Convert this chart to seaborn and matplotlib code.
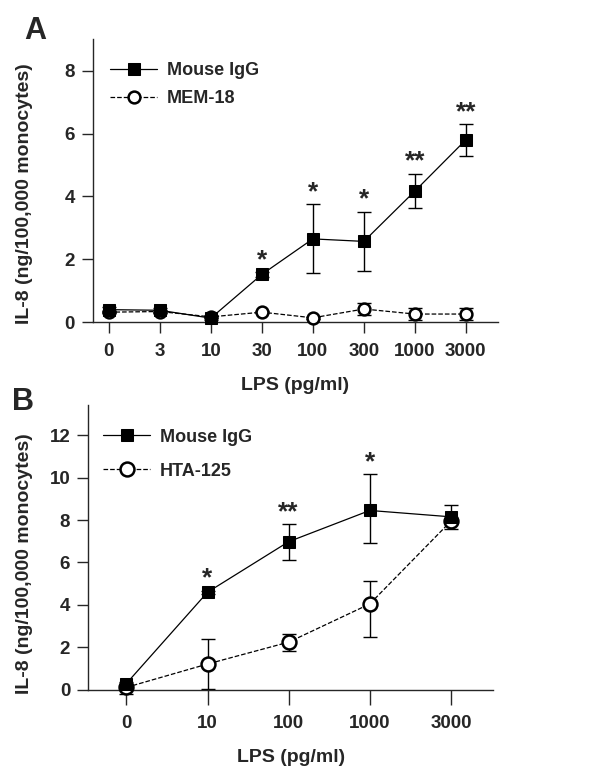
import matplotlib
matplotlib.use("Agg")
import matplotlib.pyplot as plt
import seaborn as sns
import numpy as np
import pandas as pd

# Panel A: anti-CD14 (MEM-18)
doses_a = ["0", "3", "10", "30", "100", "300", "1000", "3000"]
igg_a = [0.40, 0.38, 0.13, 1.52, 2.65, 2.57, 4.17, 5.80]
igg_a_err = [0.08, 0.06, 0.06, 0.08, 1.10, 0.95, 0.55, 0.50]
mem18_a = [0.32, 0.34, 0.17, 0.32, 0.14, 0.42, 0.26, 0.26]
mem18_a_err = [0.04, 0.04, 0.04, 0.04, 0.04, 0.18, 0.20, 0.20]
stars_a = ["", "", "", "*", "*", "*", "**", "**"]

# Panel B: HTA-125
doses_b = ["0", "10", "100", "1000", "3000"]
igg_b = [0.30, 4.60, 6.98, 8.45, 8.15]
igg_b_lo = [0.08, 0.08, 0.85, 1.55, 0.08]
igg_b_hi = [0.08, 0.08, 0.82, 1.70, 0.55]
hta_b = [0.12, 1.22, 2.25, 4.05, 7.95]
hta_b_lo = [0.30, 1.20, 0.42, 1.58, 0.35]
hta_b_hi = [0.05, 1.17, 0.40, 1.09, 0.15]
stars_b = ["", "*", "**", "*", ""]

sns.set_style("ticks")
plt.rcParams["font.family"] = ["Liberation Sans", "DejaVu Sans"]
plt.rcParams["font.weight"] = "bold"


def draw_panel(ax, doses, ctrl, ctrl_lo, ctrl_hi, treat, treat_lo, treat_hi,
               stars, treat_name, sq_size, circ_size, xtick_len):
    x = np.arange(len(doses))
    df = pd.DataFrame({"x": np.concatenate([x, x]),
                       "y": ctrl + treat,
                       "group": ["Mouse IgG"] * len(x) + [treat_name] * len(x)})

    # error bars first, so markers sit on top
    ax.errorbar(x, treat, yerr=[treat_lo, treat_hi], fmt="none", ecolor="black",
                elinewidth=1.0, capsize=5, capthick=1.0, zorder=2, clip_on=False)
    ax.errorbar(x, ctrl, yerr=[ctrl_lo, ctrl_hi], fmt="none", ecolor="black",
                elinewidth=1.0, capsize=5, capthick=1.0, zorder=2, clip_on=False)

    sub = df[df["group"] == treat_name]
    sns.lineplot(data=sub, x="x", y="y", ax=ax, color="black", linestyle="--",
                 linewidth=0.9, marker="o", markersize=circ_size,
                 markerfacecolor="white", markeredgecolor="black",
                 markeredgewidth=1.8, label=treat_name, zorder=3, clip_on=False)
    sub = df[df["group"] == "Mouse IgG"]
    sns.lineplot(data=sub, x="x", y="y", ax=ax, color="black", linestyle="-",
                 linewidth=0.9, marker="s", markersize=sq_size,
                 markerfacecolor="black", markeredgecolor="black",
                 label="Mouse IgG", zorder=4, clip_on=False)

    for i, s in enumerate(stars):
        if s:
            top = ctrl[i] + ctrl_hi[i]
            ax.text(x[i], top, s, ha="center", va="bottom",
                    fontsize=19, fontweight="bold")

    ax.set_xticks(x)
    ax.set_xticklabels(doses)
    ax.set_xlabel("LPS (pg/ml)", fontsize=14, fontweight="bold", labelpad=12)
    ax.set_ylabel("IL-8 (ng/100,000 monocytes)", fontsize=14, fontweight="bold")
    ax.tick_params(axis="both", labelsize=13.5, width=1.0, direction="out")
    ax.tick_params(axis="y", length=8, pad=5)
    ax.tick_params(axis="x", length=xtick_len, pad=7)
    for lab in ax.get_xticklabels() + ax.get_yticklabels():
        lab.set_fontweight("bold")
    sns.despine(ax=ax)
    ax.spines["left"].set_linewidth(1.0)
    ax.spines["bottom"].set_linewidth(1.0)

    handles, labels = ax.get_legend_handles_labels()
    order = [labels.index("Mouse IgG"), labels.index(treat_name)]
    return [handles[i] for i in order], [labels[i] for i in order]


fig = plt.figure(figsize=(6, 7.84), dpi=100)

ax_a = fig.add_axes([0.155, 0.589, 0.675, 0.361])
h, l = draw_panel(ax_a, doses_a, igg_a, igg_a_err, igg_a_err,
                  mem18_a, mem18_a_err, mem18_a_err, stars_a, "MEM-18",
                  9, 8.5, 8)
ax_a.set_xlim(-0.31, 7.63)
ax_a.set_ylim(0, 9)
ax_a.set_yticks([0, 2, 4, 6, 8])
ax_a.yaxis.set_label_coords(-0.148, 0.455)
ax_a.legend(h, l, loc="upper left", bbox_to_anchor=(0.02, 0.95), frameon=False,
            handlelength=2.6, handletextpad=0.55,
            labelspacing=0.6, borderpad=0, prop={"weight": "bold", "size": 13})
fig.text(0.04, 0.96, "A", fontsize=22, fontweight="bold", va="center")

ax_b = fig.add_axes([0.147, 0.12, 0.675, 0.363])
h, l = draw_panel(ax_b, doses_b, igg_b, igg_b_lo, igg_b_hi,
                  hta_b, hta_b_lo, hta_b_hi, stars_b, "HTA-125",
                  9, 10, 11)
ax_b.set_xlim(-0.47, 4.52)
ax_b.set_ylim(0, 13.4)
ax_b.set_yticks([0, 2, 4, 6, 8, 10, 12])
ax_b.yaxis.set_label_coords(-0.136, 0.445)
ax_b.legend(h, l, loc="upper left", bbox_to_anchor=(0.015, 0.95), frameon=False,
            handlelength=2.6, handletextpad=0.55, labelspacing=0.95,
            borderpad=0, prop={"weight": "bold", "size": 13})
fig.text(0.02, 0.487, "B", fontsize=22, fontweight="bold", va="center")

fig.savefig("out.png", dpi=100)
